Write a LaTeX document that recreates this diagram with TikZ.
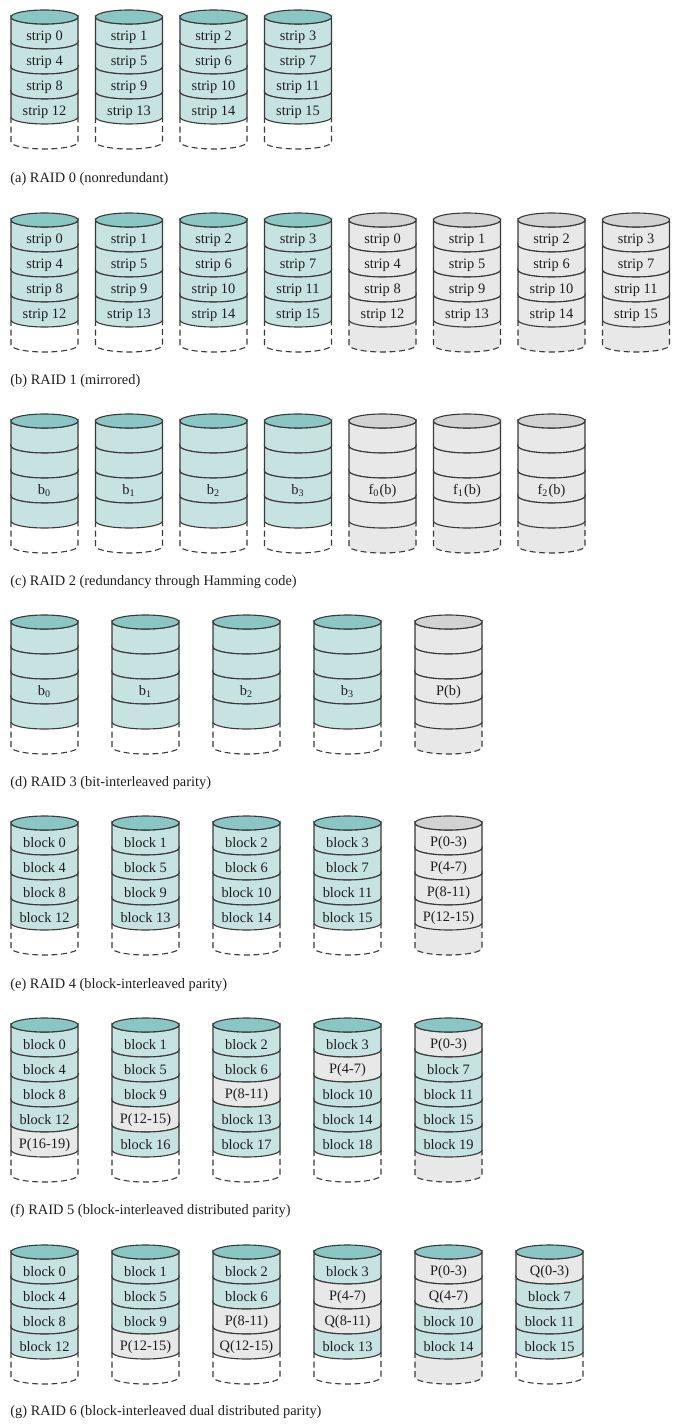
\documentclass[tikz,border=0pt]{standalone}
\usepackage{fontspec}
\setmainfont{Liberation Serif}
\usetikzlibrary{positioning}
\definecolor{data}{HTML}{C6E3E2}
\definecolor{datatop}{HTML}{8AC6C4}
\definecolor{check}{HTML}{E8E8E8}
\definecolor{checktop}{HTML}{D2D2D2}
\definecolor{rim}{HTML}{3A3A3A}
\definecolor{ink}{HTML}{1E1E1E}
\tikzset{
  rimline/.style={draw=rim,line width=0.55pt},
  spareline/.style={draw=rim,line width=0.55pt,dash pattern=on 3pt off 1.8pt},
  disklabel/.style={font=\fontsize{7.2}{8.6}\selectfont,text=ink,inner sep=0pt},
  caption/.style={anchor=west,font=\fontsize{7.2}{8.6}\selectfont,text=ink,inner sep=0pt}
}
\newcommand{\dw}{33.5}
\newcommand{\dr}{7}
% #1 name, #2 x, #3 y of top, #4 top fill, #5 fill/label per band, #6 spare fill
\newcommand{\raiddisk}[6]{%
  \foreach \f/\lab [count=\i] in {#5} {\xdef\nb{\i}}
  \begin{scope}[shift={(#2,-#3)}]
    \fill[#6] (-\dw,-25*\nb) -- (-\dw,-25*\nb-25)
      arc[start angle=180,end angle=360,x radius=\dw,y radius=\dr]
      -- (\dw,-25*\nb) arc[start angle=0,end angle=-180,x radius=\dw,y radius=\dr] -- cycle;
    \draw[spareline] (-\dw,-25*\nb) -- (-\dw,-25*\nb-25)
      arc[start angle=180,end angle=360,x radius=\dw,y radius=\dr] -- (\dw,-25*\nb);
    \foreach \f/\lab [count=\i from 0] in {#5} {
      \path[rimline,fill=\f] (-\dw,-25*\i) -- (-\dw,-25*\i-25)
        arc[start angle=180,end angle=360,x radius=\dw,y radius=\dr]
        -- (\dw,-25*\i) arc[start angle=0,end angle=-180,x radius=\dw,y radius=\dr] -- cycle;
      \node[disklabel] (#1-\i) at (0,-25*\i-19.8) {\lab};
    }
    \path[rimline,fill=#4] (0,0) ellipse[x radius=\dw,y radius=\dr];
  \end{scope}}

\begin{document}
\begin{tikzpicture}[x=0.5pt,y=0.5pt]
  \useasboundingbox (0,0) rectangle (678,-1428);

  % (a) RAID 0
  \raiddisk{a1}{44.5}{17}{datatop}{data/strip 0,data/strip 4,data/strip 8,data/strip 12}{white}
  \raiddisk{a2}{129}{17}{datatop}{data/strip 1,data/strip 5,data/strip 9,data/strip 13}{white}
  \raiddisk{a3}{213.5}{17}{datatop}{data/strip 2,data/strip 6,data/strip 10,data/strip 14}{white}
  \raiddisk{a4}{298}{17}{datatop}{data/strip 3,data/strip 7,data/strip 11,data/strip 15}{white}
  \node[caption] (capa) at (10,-179) {(a) RAID 0 (nonredundant)};

  % (b) RAID 1
  \raiddisk{b1}{44.5}{220}{datatop}{data/strip 0,data/strip 4,data/strip 8,data/strip 12}{white}
  \raiddisk{b2}{129}{220}{datatop}{data/strip 1,data/strip 5,data/strip 9,data/strip 13}{white}
  \raiddisk{b3}{213.5}{220}{datatop}{data/strip 2,data/strip 6,data/strip 10,data/strip 14}{white}
  \raiddisk{b4}{298}{220}{datatop}{data/strip 3,data/strip 7,data/strip 11,data/strip 15}{white}
  \raiddisk{b5}{382.5}{220}{checktop}{check/strip 0,check/strip 4,check/strip 8,check/strip 12}{check}
  \raiddisk{b6}{467}{220}{checktop}{check/strip 1,check/strip 5,check/strip 9,check/strip 13}{check}
  \raiddisk{b7}{551.5}{220}{checktop}{check/strip 2,check/strip 6,check/strip 10,check/strip 14}{check}
  \raiddisk{b8}{636}{220}{checktop}{check/strip 3,check/strip 7,check/strip 11,check/strip 15}{check}
  \node[caption] (capb) at (10,-381) {(b) RAID 1 (mirrored)};

  % (c) RAID 2
  \raiddisk{c1}{44.5}{421}{datatop}{data/,data/,data/b\textsubscript{0},data/}{white}
  \raiddisk{c2}{129}{421}{datatop}{data/,data/,data/b\textsubscript{1},data/}{white}
  \raiddisk{c3}{213.5}{421}{datatop}{data/,data/,data/b\textsubscript{2},data/}{white}
  \raiddisk{c4}{298}{421}{datatop}{data/,data/,data/b\textsubscript{3},data/}{white}
  \raiddisk{c5}{382.5}{421}{checktop}{check/,check/,check/f\textsubscript{0}(b),check/}{check}
  \raiddisk{c6}{467}{421}{checktop}{check/,check/,check/f\textsubscript{1}(b),check/}{check}
  \raiddisk{c7}{551.5}{421}{checktop}{check/,check/,check/f\textsubscript{2}(b),check/}{check}
  \node[caption] (capc) at (10,-582) {(c) RAID 2 (redundancy through Hamming code)};

  % (d) RAID 3
  \raiddisk{d1}{44.5}{622}{datatop}{data/,data/,data/b\textsubscript{0},data/}{white}
  \raiddisk{d2}{145.5}{622}{datatop}{data/,data/,data/b\textsubscript{1},data/}{white}
  \raiddisk{d3}{246.5}{622}{datatop}{data/,data/,data/b\textsubscript{2},data/}{white}
  \raiddisk{d4}{347.5}{622}{datatop}{data/,data/,data/b\textsubscript{3},data/}{white}
  \raiddisk{d5}{448.5}{622}{checktop}{check/,check/,check/P(b),check/}{check}
  \node[caption] (capd) at (10,-783) {(d) RAID 3 (bit-interleaved parity)};

  % (e) RAID 4
  \raiddisk{e1}{44.5}{823}{datatop}{data/block 0,data/block 4,data/block 8,data/block 12}{white}
  \raiddisk{e2}{145.5}{823}{datatop}{data/block 1,data/block 5,data/block 9,data/block 13}{white}
  \raiddisk{e3}{246.5}{823}{datatop}{data/block 2,data/block 6,data/block 10,data/block 14}{white}
  \raiddisk{e4}{347.5}{823}{datatop}{data/block 3,data/block 7,data/block 11,data/block 15}{white}
  \raiddisk{e5}{448.5}{823}{checktop}{check/P(0-3),check/P(4-7),check/P(8-11),check/P(12-15)}{check}
  \node[caption] (cape) at (10,-985) {(e) RAID 4 (block-interleaved parity)};

  % (f) RAID 5
  \raiddisk{f1}{44.5}{1025}{datatop}{data/block 0,data/block 4,data/block 8,data/block 12,check/P(16-19)}{white}
  \raiddisk{f2}{145.5}{1025}{datatop}{data/block 1,data/block 5,data/block 9,check/P(12-15),data/block 16}{white}
  \raiddisk{f3}{246.5}{1025}{datatop}{data/block 2,data/block 6,check/P(8-11),data/block 13,data/block 17}{white}
  \raiddisk{f4}{347.5}{1025}{datatop}{data/block 3,check/P(4-7),data/block 10,data/block 14,data/block 18}{white}
  \raiddisk{f5}{448.5}{1025}{datatop}{check/P(0-3),data/block 7,data/block 11,data/block 15,data/block 19}{check}
  \node[caption] (capf) at (10,-1211) {(f) RAID 5 (block-interleaved distributed parity)};

  % (g) RAID 6
  \raiddisk{g1}{44.5}{1252}{datatop}{data/block 0,data/block 4,data/block 8,data/block 12}{white}
  \raiddisk{g2}{145.5}{1252}{datatop}{data/block 1,data/block 5,data/block 9,check/P(12-15)}{white}
  \raiddisk{g3}{246.5}{1252}{datatop}{data/block 2,data/block 6,check/P(8-11),check/Q(12-15)}{white}
  \raiddisk{g4}{347.5}{1252}{datatop}{data/block 3,check/P(4-7),check/Q(8-11),data/block 13}{white}
  \raiddisk{g5}{448.5}{1252}{datatop}{check/P(0-3),check/Q(4-7),data/block 10,data/block 14}{check}
  \raiddisk{g6}{549.5}{1252}{datatop}{check/Q(0-3),data/block 7,data/block 11,data/block 15}{white}
  \node[caption] (capg) at (10,-1412) {(g) RAID 6 (block-interleaved dual distributed parity)};
\end{tikzpicture}
\end{document}
